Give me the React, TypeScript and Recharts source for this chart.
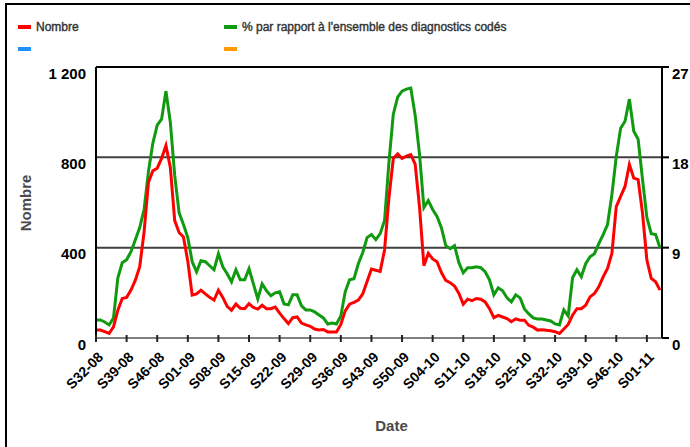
import React from 'react';
import { LineChart, Line, XAxis, YAxis, CartesianGrid, ReferenceLine } from 'recharts';

// Week categories: [year suffix, first week, last week]
const weekRanges: [number, number, number][] = [
  [8, 32, 52],
  [9, 1, 53],
  [10, 1, 52],
  [11, 1, 4],
];
const weeks: string[] = [];
weekRanges.forEach(([yy, a, b]) => {
  for (let w = a; w <= b; w++) {
    weeks.push(`S${String(w).padStart(2, '0')}-${String(yy).padStart(2, '0')}`);
  }
});

// Nombre (left axis)
const nombre = [
  35, 35, 28, 20, 49, 123, 175, 180, 212, 256,
  316, 470, 690, 740, 752, 795, 852, 755, 520, 467,
  447, 340, 190, 195, 212, 195, 180, 168, 212, 180,
  140, 123, 150, 132, 130, 152, 135, 128, 145, 130,
  130, 137, 110, 86, 64, 90, 93, 66, 58, 52,
  40, 36, 38, 27, 27, 27, 60, 120, 150, 158,
  168, 195, 250, 305, 300, 295, 390, 620, 795, 815,
  795, 805, 812, 770, 580, 320, 375, 350, 338, 290,
  255, 245, 230, 197, 150, 172, 165, 175, 172, 160,
  130, 90, 100, 93, 86, 72, 85, 79, 79, 56,
  48, 35, 37, 34, 32, 28, 20, 40, 60, 101,
  130, 130, 145, 182, 197, 227, 271, 308, 375, 582,
  627, 671, 768, 708, 701, 553, 345, 264, 249, 212,
];

// % par rapport à l'ensemble des diagnostics codés (right axis)
const pourcentage = [
  1.8, 1.8, 1.6, 1.3, 2.0, 6.0, 7.5, 7.8, 8.6, 9.8,
  11.0, 12.8, 16.6, 19.4, 21.2, 21.8, 24.6, 21.5, 16.2, 12.5,
  11.3, 10.0, 7.6, 6.6, 7.7, 7.6, 7.2, 6.8, 8.4, 7.1,
  6.4, 5.6, 6.8, 5.8, 5.8, 6.9, 5.4, 3.9, 5.4, 4.7,
  4.2, 4.5, 4.6, 3.4, 3.3, 4.3, 4.3, 3.2, 2.8, 2.8,
  2.6, 2.3, 2.0, 1.4, 1.5, 1.4, 2.2, 4.6, 5.8, 5.9,
  7.4, 8.5, 10.0, 10.3, 9.8, 10.4, 11.7, 17.5, 22.3, 24.0,
  24.6, 24.8, 24.9, 22.2, 18.3, 13.0, 13.7, 12.8, 12.1, 11.0,
  9.2, 8.9, 9.2, 7.5, 6.5, 7.0, 7.0, 7.1, 7.0, 6.6,
  5.8, 4.3, 5.0, 4.7, 4.0, 3.6, 4.3, 4.0, 2.9, 2.4,
  2.0, 1.9, 1.9, 1.8, 1.7, 1.4, 1.3, 2.8, 2.2, 6.0,
  6.8, 6.1, 7.4, 8.1, 8.4, 9.4, 10.3, 11.3, 14.3, 18.1,
  20.9, 21.6, 23.8, 20.6, 19.8, 15.8, 12.0, 10.4, 10.3, 9.0,
];

const leftTicks = [0, 400, 800, 1200];
const rightTicks = [0, 9, 18, 27];
const xTicks = weeks.filter((_, i) => i % 7 === 0);

const seriesNames = ['Nombre', "% par rapport à l'ensemble des diagnostics codés"];

const data = weeks.map((week, i) => ({ week, nombre: nombre[i], pct: pourcentage[i] }));

const FONT = 'Liberation Sans, Arial, Helvetica, sans-serif';

const fmtThousands = (v: number) => String(v).replace(/\B(?=(\d{3})+(?!\d))/g, ' ');

const LeftTick = (props: any) => {
  const { x, y, payload } = props;
  return (
    <text x={x} y={y + 6.5} dy="0.355em" textAnchor="end" fontSize={15} fontWeight="bold" fill="#000" fontFamily={FONT}>
      {fmtThousands(payload.value)}
    </text>
  );
};

const RightTick = (props: any) => {
  const { x, y, payload } = props;
  return (
    <text x={x} y={y + 6.5} dy="0.355em" textAnchor="start" fontSize={15} fontWeight="bold" fill="#000" fontFamily={FONT}>
      {payload.value}
    </text>
  );
};

const XTick = (props: any) => {
  const { x, y, payload } = props;
  const ax = x + 8;
  const ay = y + 20;
  return (
    <g>
      <line x1={x} x2={x} y1={y - 3} y2={y + 4} stroke="#222" strokeWidth={2} />
      <text x={ax} y={ay} textAnchor="end" transform={`rotate(-45 ${ax} ${ay})`} fontSize={14} fontWeight="bold" fill="#000" fontFamily={FONT}>
        {payload.value}
      </text>
    </g>
  );
};

export default function App() {
  return (
    <div style={{ position: 'absolute', left: 0, top: 0, width: 690, height: 447, background: '#fff', overflow: 'hidden' }}>
      <LineChart width={690} height={447} data={data} margin={{ top: 67, right: 0, bottom: 0, left: 36 }}>
        <CartesianGrid horizontal vertical={false} yAxisId="left" stroke="#404040" strokeWidth={2} />
        <XAxis
          dataKey="week"
          ticks={xTicks}
          interval={0}
          height={109}
          tickSize={0}
          tickMargin={0}
          tickLine={false}
          tick={<XTick />}
          axisLine={{ stroke: '#808080', strokeWidth: 2 }}
          padding={{ left: 0, right: 2 }}
        />
        <YAxis
          yAxisId="left"
          domain={[0, 1200]}
          ticks={leftTicks}
          width={60}
          tickSize={0}
          tickMargin={10}
          tickLine={false}
          axisLine={{ stroke: '#000', strokeWidth: 2 }}
          tick={<LeftTick />}
        />
        <YAxis
          yAxisId="right"
          orientation="right"
          domain={[0, 27]}
          ticks={rightTicks}
          width={28}
          tickSize={7}
          tickMargin={3}
          tickLine={{ stroke: '#000', strokeWidth: 2 }}
          axisLine={{ stroke: '#000', strokeWidth: 2 }}
          tick={<RightTick />}
        />
        <ReferenceLine yAxisId="left" y={1200} stroke="#000" strokeWidth={2} />
        <Line yAxisId="right" type="linear" dataKey="pct" name={seriesNames[1]} stroke="#109a10" strokeWidth={3} dot={false} isAnimationActive={false} />
        <Line yAxisId="left" type="linear" dataKey="nombre" name={seriesNames[0]} stroke="#ff0000" strokeWidth={3} dot={false} isAnimationActive={false} />
      </LineChart>
      <svg width={690} height={447} style={{ position: 'absolute', left: 0, top: 0, pointerEvents: 'none' }}>
        <line x1={5} x2={690} y1={4} y2={4} stroke="#000" strokeWidth={2} />
        <line x1={6} x2={6} y1={3} y2={447} stroke="#000" strokeWidth={2} />
        <rect x={18} y={25} width={13} height={4} fill="#ff0000" />
        <text x={36} y={27} dy="0.355em" fontSize={12} fill="#333" stroke="#333" strokeWidth={0.4} fontFamily={FONT}>{seriesNames[0]}</text>
        <rect x={224} y={25} width={13} height={4} fill="#109a10" />
        <text x={242} y={27} dy="0.355em" fontSize={12} fill="#333" stroke="#333" strokeWidth={0.4} fontFamily={FONT}>{seriesNames[1]}</text>
        <rect x={18} y={47} width={13} height={4} fill="#1e90ff" />
        <rect x={224} y={47} width={13} height={4} fill="#ff9900" />
        <text x={25.5} y={203} dy="0.355em" textAnchor="middle" transform="rotate(-90 25.5 203)" fontSize={15} fontWeight="bold" fill="#4a4a4a" fontFamily={FONT}>Nombre</text>
        <text x={391.5} y={425.5} dy="0.355em" textAnchor="middle" fontSize={15} fontWeight="bold" fill="#4a4a4a" fontFamily={FONT}>Date</text>
      </svg>
    </div>
  );
}
